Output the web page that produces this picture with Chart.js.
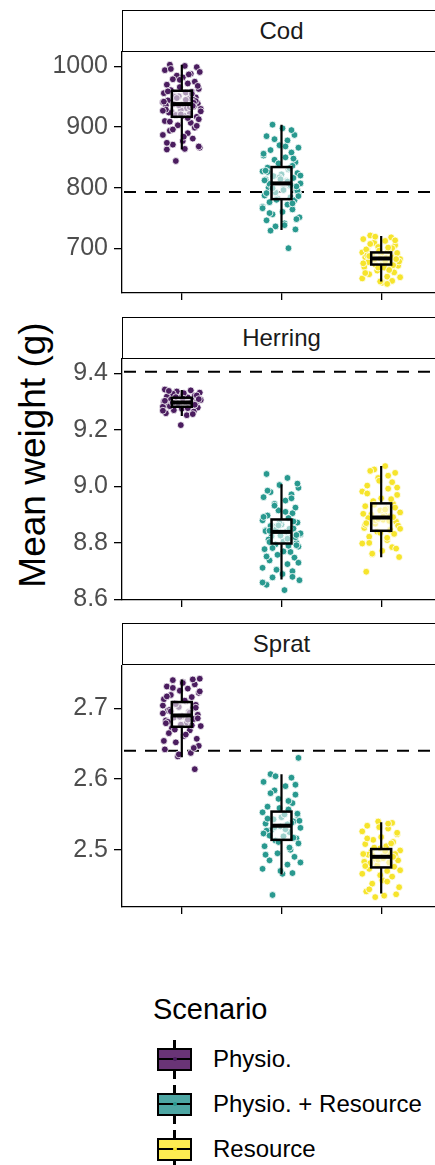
<!DOCTYPE html>
<html><head><meta charset="utf-8">
<script src="https://cdn.jsdelivr.net/npm/chart.js@4.4.1/dist/chart.umd.min.js"></script>
<style>
html,body{margin:0;padding:0;background:#fff;}
body{width:435px;height:1165px;overflow:hidden;position:relative;font-family:"Liberation Sans",Arial,sans-serif;}
.strip{position:absolute;left:122px;width:319px;height:42px;border:1.6px solid #000;box-sizing:border-box;text-align:center;font-size:24px;color:#1a1a1a;line-height:39px;background:#fff;z-index:2;}
canvas{position:absolute;left:0;}
#ytitle{position:absolute;width:400px;height:40px;left:-167px;top:435px;line-height:40px;text-align:center;font-size:37px;color:#000;transform:rotate(-90deg);white-space:nowrap;}
#legTitle{position:absolute;left:153px;top:995px;font-size:29px;line-height:29px;color:#000;white-space:nowrap;}
.legItem{position:absolute;left:213px;font-size:24px;line-height:24px;color:#000;white-space:nowrap;}
.key{position:absolute;left:157px;width:35px;height:23px;border:2.5px solid #000;box-sizing:border-box;}
.key .med{position:absolute;left:0;right:0;top:50%;height:2.5px;margin-top:-1.25px;background:#000;}
.key .wu,.key .wd{position:absolute;left:50%;width:2.5px;margin-left:-1.25px;height:8px;background:#000;}
.key .wu{top:-10px;}
.key .wd{bottom:-10px;}
.key .dot{position:absolute;left:50%;top:50%;width:4px;height:4px;margin:-2px 0 0 -2px;border-radius:50%;}
</style>
</head><body>
<div id="ytitle">Mean weight (g)</div>
<div id="legend"></div>
<script>
// ---------- data ----------
const scenarios = ['Physio.', 'Physio. + Resource', 'Resource'];
const species = ['Cod', 'Herring', 'Sprat'];

// y-axis tick labels and visible ranges
const codTicks = [700, 800, 900, 1000];
const herringTicks = [8.6, 8.8, 9.0, 9.2, 9.4];
const spratTicks = [2.5, 2.6, 2.7];
const codRange = [626, 1024];
const herringRange = [8.598, 9.451];
const spratRange = [2.419, 2.760];

// dashed reference line per species
const refLines = [793, 9.406, 2.640];

// box statistics: [lower whisker, Q1, median, Q3, upper whisker]
const codBox = [[863, 917, 938, 960, 1003], [730, 781, 807, 834, 904], [645, 673, 683, 693, 720]];
const herringBox = [[9.249, 9.282, 9.297, 9.314, 9.341], [8.671, 8.798, 8.839, 8.883, 9.008], [8.749, 8.843, 8.890, 8.940, 9.072]];
const spratBox = [[2.631, 2.674, 2.690, 2.709, 2.741], [2.465, 2.514, 2.534, 2.554, 2.607], [2.438, 2.475, 2.490, 2.501, 2.539]];

// individual simulation points
const codPhysio = [1003, 999, 1001, 994, 988, 985, 991, 979, 982, 975, 970, 972, 966, 963, 961, 958, 956, 957, 952, 949, 951, 946, 944, 947, 941, 939, 937, 938, 934, 936, 931, 928, 930, 925, 922, 924, 919, 917, 920, 913, 910, 907, 903, 899, 894, 890, 887, 881, 877, 871, 866, 863, 864, 844, 943,
  996, 987, 978, 968, 959, 955, 950, 945, 942, 940, 936, 933, 929, 926, 921, 915, 909, 902, 896, 884, 874, 868, 948, 935, 927];
const codBoth = [904, 898, 887, 885, 878, 870, 866, 862, 858, 853, 850, 846, 842, 838, 836, 833, 830, 827, 824, 822, 819, 816, 813, 811, 809, 807, 805, 803, 800, 798, 795, 792, 790, 787, 784, 782, 779, 776, 772, 768, 764, 760, 756, 751, 746, 741, 736, 731, 729, 700, 817, 795, 826,
  895, 880, 868, 856, 848, 840, 832, 828, 820, 814, 810, 806, 802, 799, 796, 791, 786, 780, 774, 766, 758, 748, 738, 812, 804];
const codResource = [721, 718, 715, 712, 709, 705, 702, 700, 697, 695, 693, 691, 690, 688, 686, 685, 684, 683, 682, 680, 679, 677, 676, 674, 673, 671, 669, 666, 663, 660, 657, 653, 650, 646, 643, 689, 678, 698, 668,
  719, 713, 707, 701, 696, 692, 688, 685, 681, 678, 675, 672, 668, 664, 659, 652, 645, 641, 687, 682];
const herringPhysio = [9.343, 9.340, 9.336, 9.332, 9.328, 9.325, 9.321, 9.318, 9.315, 9.312, 9.310, 9.307, 9.304, 9.301, 9.299, 9.297, 9.295, 9.293, 9.290, 9.288, 9.285, 9.282, 9.279, 9.275, 9.270, 9.265, 9.259, 9.252, 9.217, 9.306, 9.291, 9.300,
  9.338, 9.330, 9.322, 9.316, 9.309, 9.303, 9.298, 9.294, 9.289, 9.284, 9.277, 9.268, 9.256, 9.311, 9.296];
const herringBoth = [9.044, 9.030, 9.005, 8.995, 8.980, 8.972, 8.962, 8.950, 8.938, 8.925, 8.915, 8.905, 8.897, 8.888, 8.880, 8.872, 8.865, 8.858, 8.851, 8.845, 8.840, 8.836, 8.830, 8.824, 8.818, 8.812, 8.806, 8.800, 8.795, 8.787, 8.778, 8.768, 8.758, 8.748, 8.738, 8.725, 8.712, 8.700, 8.690, 8.678, 8.668, 8.652, 8.633, 8.848, 8.820, 8.860, 8.790, 8.870,
  9.010, 8.985, 8.958, 8.932, 8.910, 8.892, 8.876, 8.862, 8.850, 8.842, 8.834, 8.826, 8.815, 8.803, 8.792, 8.782, 8.770, 8.752, 8.730, 8.705, 8.680, 8.660, 8.843, 8.828];
const herringResource = [9.072, 9.060, 9.048, 9.030, 9.015, 9.003, 8.992, 8.982, 8.970, 8.958, 8.948, 8.938, 8.930, 8.922, 8.915, 8.908, 8.900, 8.894, 8.888, 8.882, 8.875, 8.868, 8.861, 8.853, 8.846, 8.840, 8.832, 8.822, 8.810, 8.798, 8.785, 8.772, 8.760, 8.750, 8.698, 8.905, 8.880, 8.925,
  9.055, 9.038, 9.020, 8.996, 8.975, 8.955, 8.935, 8.918, 8.903, 8.891, 8.885, 8.878, 8.864, 8.850, 8.836, 8.818, 8.800, 8.780, 8.762, 8.893, 8.870];
const spratPhysio = [2.742, 2.740, 2.737, 2.734, 2.731, 2.728, 2.725, 2.722, 2.719, 2.716, 2.713, 2.710, 2.707, 2.705, 2.702, 2.700, 2.697, 2.695, 2.693, 2.691, 2.689, 2.687, 2.685, 2.683, 2.680, 2.677, 2.675, 2.672, 2.669, 2.665, 2.661, 2.657, 2.652, 2.647, 2.642, 2.637, 2.632, 2.614, 2.698, 2.684, 2.704,
  2.741, 2.736, 2.729, 2.724, 2.717, 2.711, 2.706, 2.701, 2.696, 2.692, 2.688, 2.686, 2.681, 2.676, 2.670, 2.663, 2.654, 2.644, 2.635, 2.694, 2.679];
const spratBoth = [2.630, 2.607, 2.602, 2.596, 2.590, 2.584, 2.578, 2.572, 2.566, 2.561, 2.557, 2.553, 2.549, 2.546, 2.543, 2.540, 2.537, 2.535, 2.533, 2.531, 2.528, 2.525, 2.522, 2.519, 2.516, 2.513, 2.509, 2.505, 2.500, 2.495, 2.490, 2.485, 2.479, 2.473, 2.467, 2.466, 2.436, 2.541, 2.527, 2.550,
  2.604, 2.592, 2.580, 2.569, 2.559, 2.551, 2.544, 2.538, 2.532, 2.529, 2.523, 2.517, 2.511, 2.503, 2.493, 2.482, 2.470, 2.536, 2.520];
const spratResource = [2.540, 2.538, 2.534, 2.530, 2.526, 2.522, 2.518, 2.514, 2.511, 2.508, 2.505, 2.502, 2.499, 2.497, 2.495, 2.493, 2.491, 2.489, 2.487, 2.485, 2.483, 2.480, 2.478, 2.476, 2.473, 2.470, 2.466, 2.462, 2.457, 2.452, 2.447, 2.441, 2.435, 2.433, 2.494, 2.481,
  2.537, 2.532, 2.524, 2.516, 2.509, 2.503, 2.498, 2.494, 2.490, 2.486, 2.482, 2.477, 2.471, 2.464, 2.455, 2.444, 2.437, 2.492, 2.488];

// horizontal jitter (hundredths of a category)
const jitter = [-12, 15, 3, -17, 9, -5, 18, -9, 1, 13, -15, 6, -2, 17, -11, 10, -18, 4, -7, 14, -3, 11, -14, 7, -19, 16, 0, -8, 12, -16, 5, -1, 19, -10, 8, -13, 2, 15, -6, 17, -17, 9, -4, 13, -12, 6, -19, 11, 1, -9, 18, -15, 3, -6, 14, -11, 7, -2, 16, -14, 10, -7, 4, -18, 12, -3, 8, -16, 19, -1, 6, -12, 15, -9, 2, -15, 17, -5, 11, -19];

// ---------- styling ----------
const pointColors = ['#4B1D5F', '#29998F', '#F6E42C'];
const keyFills = ['#693476', '#4DA6A3', '#FDEC51'];
const FONT = '"Liberation Sans", Arial, sans-serif';

const panels = [
  { name: species[0], ticks: codTicks, range: codRange, box: codBox, pts: [codPhysio, codBoth, codResource], ref: refLines[0], fmt: v => String(v), strip: 10, top: 52, bottom: 293 },
  { name: species[1], ticks: herringTicks, range: herringRange, box: herringBox, pts: [herringPhysio, herringBoth, herringResource], ref: refLines[1], fmt: v => v.toFixed(1), strip: 317, top: 359, bottom: 600 },
  { name: species[2], ticks: spratTicks, range: spratRange, box: spratBox, pts: [spratPhysio, spratBoth, spratResource], ref: refLines[2], fmt: v => v.toFixed(1), strip: 623, top: 666, bottom: 907 }
];

const boxPlugin = {
  id: 'boxes',
  beforeDatasetsDraw(chart) {
    const p = chart.$panel, ys = chart.scales.y, ca = chart.chartArea, c = chart.ctx;
    const y = ys.getPixelForValue(p.ref);
    c.save();
    c.strokeStyle = '#000'; c.lineWidth = 2; c.setLineDash([12, 9]);
    c.beginPath(); c.moveTo(ca.left + 2, y); c.lineTo(ca.right, y); c.stroke();
    c.restore();
  },
  afterDatasetsDraw(chart) {
    const p = chart.$panel, xs = chart.scales.x, ys = chart.scales.y, c = chart.ctx;
    c.save();
    p.box.forEach((b, i) => {
      const cx = xs.getPixelForValue(i + 1);
      const hw = xs.getPixelForValue(i + 1.1) - cx;
      const [wl, q1, md, q3, wh] = b.map(v => ys.getPixelForValue(v));
      c.strokeStyle = '#000'; c.lineCap = 'butt';
      c.lineWidth = 2.2;
      c.beginPath(); c.moveTo(cx, wh); c.lineTo(cx, q3); c.moveTo(cx, q1); c.lineTo(cx, wl); c.stroke();
      c.fillStyle = 'rgba(255,255,255,0.55)';
      c.fillRect(cx - hw, q3, 2 * hw, q1 - q3);
      c.lineWidth = 2.5;
      c.strokeRect(cx - hw, q3, 2 * hw, q1 - q3);
      c.lineWidth = 4;
      c.beginPath(); c.moveTo(cx - hw, md); c.lineTo(cx + hw, md); c.stroke();
    });
    c.restore();
  }
};

const CW = 470;
panels.forEach((p, pi) => {
  const strip = document.createElement('div');
  strip.className = 'strip';
  strip.style.top = p.strip + 'px';
  strip.textContent = p.name;
  document.body.appendChild(strip);

  const padTop = 30, bottomH = 26;
  const cv = document.createElement('canvas');
  const h = (p.bottom - p.top) + padTop + bottomH;
  cv.width = CW; cv.height = h;
  cv.style.width = CW + 'px'; cv.style.height = h + 'px';
  cv.style.top = (p.top - padTop) + 'px';
  document.body.appendChild(cv);

  const datasets = p.pts.map((arr, i) => ({
    data: arr.map((v, k) => ({ x: i + 1 + jitter[(k + i * 7 + pi * 3) % jitter.length] / 100, y: v })),
    backgroundColor: pointColors[i],
    borderColor: '#ffffff',
    borderWidth: 0.8,
    pointRadius: 3.4,
    pointHoverRadius: 3.4
  }));

  new Chart(cv.getContext('2d'), {
    type: 'scatter',
    data: { datasets },
    options: {
      responsive: false, animation: false, devicePixelRatio: 1, events: [],
      layout: { padding: { top: padTop, right: CW - 441, left: 0, bottom: 0 } },
      plugins: { legend: { display: false }, tooltip: { enabled: false } },
      scales: {
        x: {
          type: 'linear', min: 0.4, max: 3.6,
          afterBuildTicks: s => { s.ticks = [1, 2, 3].map(v => ({ value: v })); },
          ticks: { callback: () => '', font: { size: 1 } },
          grid: { display: true, drawOnChartArea: false, drawTicks: true, tickLength: 7, color: '#000', lineWidth: 1.3 },
          border: { display: true, color: '#000', width: 1.3 },
          afterFit: s => { s.height = bottomH; }
        },
        y: {
          type: 'linear', min: p.range[0], max: p.range[1],
          afterBuildTicks: s => { s.ticks = p.ticks.map(v => ({ value: v })); },
          ticks: { callback: v => p.fmt(v), color: '#4D4D4D', font: { family: FONT, size: 25 }, padding: 6 },
          grid: { display: true, drawOnChartArea: false, drawTicks: true, tickLength: 8, color: '#000', lineWidth: 1.3 },
          border: { display: true, color: '#000', width: 1.3 },
          afterFit: s => { s.width = 122; }
        }
      }
    },
    plugins: [{ id: 'attach', beforeInit(ch) { ch.$panel = p; } }, boxPlugin]
  });
});

// ---------- legend ----------
const leg = document.getElementById('legend');
const t = document.createElement('div');
t.id = 'legTitle'; t.textContent = 'Scenario';
leg.appendChild(t);
const keyCenters = [1059, 1104, 1149];
scenarios.forEach((s, i) => {
  const k = document.createElement('div');
  k.className = 'key';
  k.style.top = (keyCenters[i] - 11.5) + 'px';
  k.style.background = keyFills[i];
  k.innerHTML = '<div class="wu"></div><div class="med"></div><div class="wd"></div><div class="dot" style="background:' + pointColors[i] + '"></div>';
  leg.appendChild(k);
  const l = document.createElement('div');
  l.className = 'legItem';
  l.style.top = (keyCenters[i] - 11.7) + 'px';
  l.textContent = s;
  leg.appendChild(l);
});
</script>
</body></html>
